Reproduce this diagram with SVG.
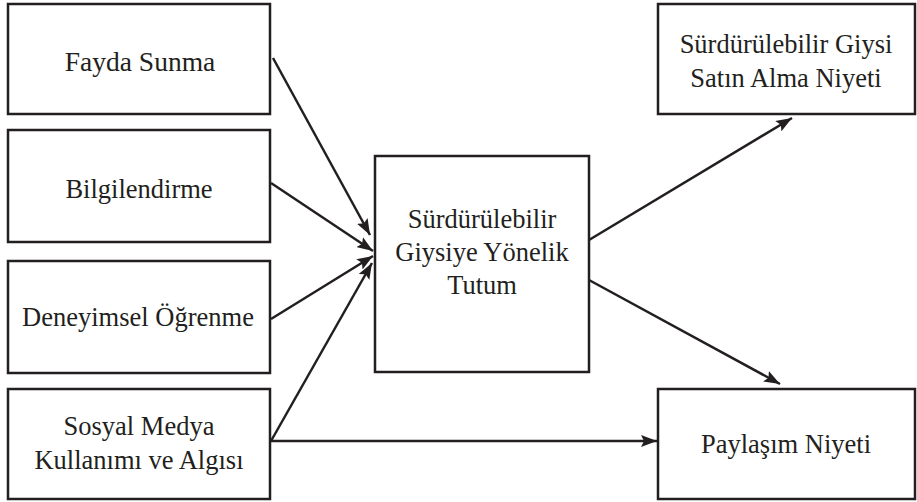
<svg xmlns="http://www.w3.org/2000/svg" width="917" height="502" viewBox="0 0 917 502">
<defs>
<marker id="ah" markerUnits="userSpaceOnUse" markerWidth="16" markerHeight="12" viewBox="0 0 16 12" refX="16" refY="6" orient="auto">
<path d="M0,0 L16,6 L0,12 L3,6 Z" fill="#231f20"/>
</marker>
<style>
.box{fill:#fff;stroke:#231f20;stroke-width:2.5}
.c line{stroke:#231f20;stroke-width:2.5;marker-end:url(#ah)}
</style>
</defs>
<rect x="0" y="0" width="917" height="502" fill="#fff"/>
<g font-family="'Liberation Serif', 'Times New Roman', serif" font-size="26.5" fill="#231f20" text-anchor="middle">
<g id="fayda"><rect class="box" x="8" y="4" width="262" height="110"/><text x="140" y="71" font-size="27.5">Fayda Sunma</text></g>
<g id="bilgi"><rect class="box" x="8" y="130" width="262" height="112"/><text x="139" y="198">Bilgilendirme</text></g>
<g id="deney"><rect class="box" x="8" y="261" width="262" height="112"/><text x="138" y="326">Deneyimsel Öğrenme</text></g>
<g id="sosyal"><rect class="box" x="8" y="389" width="262" height="110"/><text x="139" y="435">Sosyal Medya</text><text x="139" y="469">Kullanımı ve Algısı</text></g>
<g id="tutum"><rect class="box" x="375" y="156" width="214" height="216"/><text x="482" y="228">Sürdürülebilir</text><text x="482" y="261">Giysiye Yönelik</text><text x="482" y="294">Tutum</text></g>
<g id="satin"><rect class="box" x="658" y="4" width="257" height="110"/><text x="786" y="53">Sürdürülebilir Giysi</text><text x="786" y="87">Satın Alma Niyeti</text></g>
<g id="paylasim"><rect class="box" x="658" y="389" width="257" height="110"/><text x="786" y="453">Paylaşım Niyeti</text></g>
</g>
<g id="connectors" class="c">
<line x1="273" y1="58" x2="370" y2="235"/>
<line x1="271" y1="183" x2="373" y2="251"/>
<line x1="271" y1="319" x2="373" y2="256"/>
<line x1="271" y1="441" x2="372" y2="263"/>
<line x1="271" y1="441" x2="657" y2="441"/>
<line x1="589" y1="240" x2="792" y2="118"/>
<line x1="589" y1="280" x2="780" y2="384"/>
</g>
</svg>
